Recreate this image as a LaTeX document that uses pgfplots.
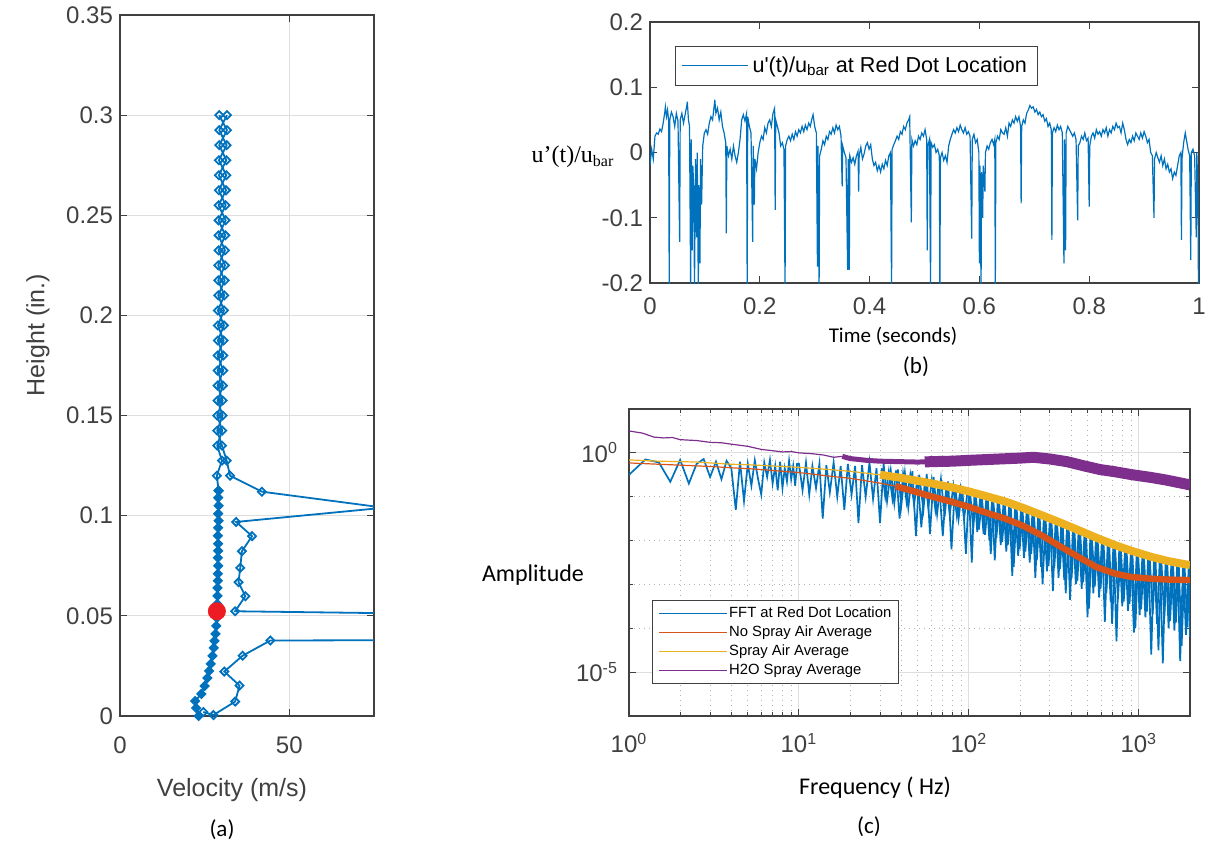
\documentclass[border=0pt]{standalone}
\usepackage{fontspec}
\setmainfont{Liberation Sans}
\newfontfamily\calibri{Carlito}
\newfontfamily\timesf{Liberation Serif}
\usepackage{pgfplots}
\pgfplotsset{compat=1.18}
\definecolor{mblue}{rgb}{0,0.447,0.741}
\definecolor{morange}{rgb}{0.850,0.325,0.098}
\definecolor{myellow}{rgb}{0.929,0.694,0.125}
\definecolor{mpurple}{rgb}{0.494,0.184,0.556}
\definecolor{axgray}{rgb}{0.25,0.25,0.25}
\definecolor{gridgray}{rgb}{0.87,0.87,0.87}
\definecolor{mred}{RGB}{237,28,36}
\pgfplotsset{
  mat/.style={scale only axis, anchor=south west,
    axis line style={draw=axgray, line width=0.6pt},
    tick style={draw=axgray, line width=0.5pt},
    tick align=inside,
    major tick length=3.5pt, minor tick length=2pt,
    ticklabel style={font=\fontsize{12}{14}\selectfont, text=axgray},
  },
}
\begin{document}
\begin{tikzpicture}
\useasboundingbox (0,0) rectangle (605.5pt,-423.5pt);
% ---------------- panel (a)
\begin{axis}[mat, at={(60pt,-358pt)}, width=127pt, height=350.5pt,
  xmin=0, xmax=75, ymin=0, ymax=0.35,
  xtick={0,50}, xticklabels={0,50},
  ytick={0,0.05,0.1,0.15,0.2,0.25,0.3,0.35},
  yticklabels={0,0.05,0.1,0.15,0.2,0.25,0.3,0.35},
  xticklabel style={yshift=-7pt},
  grid=major, major grid style={draw=gridgray, line width=0.5pt},
]
\addplot[mblue, line width=0.9pt, mark=diamond*, mark size=2pt, mark options={xscale=1.33, fill=mblue}] coordinates {
(23.2,0.000) (22.5,0.004) (22.2,0.0075) (24.0,0.011) (25.0,0.015) (25.8,0.019) (26.3,0.0225) (26.8,0.026)
(27.3,0.030) (27.7,0.034) (27.9,0.0375) (28.2,0.041) (28.4,0.045) (28.6,0.049) (28.6,0.0525) (28.7,0.056)
(28.8,0.060) (28.8,0.064) (28.9,0.0675) (28.9,0.071) (29.0,0.075) (28.9,0.079) (29.0,0.0825) (29.0,0.086)
(28.9,0.090) (29.0,0.094) (29.1,0.0975) (29.0,0.101) (29.1,0.105) (29.0,0.109) (29.1,0.1125)
};
\addplot[mblue, line width=0.9pt, mark=diamond, mark size=2pt, mark options={xscale=1.33}] coordinates {
(29.1,0.1125) (28.6,0.120) (30.1,0.1275) (28.7,0.135) (30.2,0.1425) (28.7,0.150) (30.3,0.1575) (28.8,0.165)
(30.5,0.1725) (28.8,0.180) (30.6,0.1875) (28.9,0.195) (30.7,0.2025) (29.0,0.210) (30.9,0.2175) (29.0,0.225)
(31.0,0.2325) (29.1,0.240) (31.2,0.2475) (29.1,0.255) (31.3,0.2625) (29.2,0.270) (31.4,0.2775) (29.3,0.285)
(31.6,0.2925) (29.3,0.300)
};
\addplot[mblue, line width=0.9pt, mark=diamond, mark size=2pt, mark options={xscale=1.33}] coordinates {
(31.6,0.300) (29.3,0.2925) (31.5,0.285) (29.2,0.2775) (31.4,0.270) (29.2,0.2625) (31.2,0.255) (29.1,0.2475)
(31.1,0.240) (29.1,0.2325) (31.0,0.225) (29.0,0.2175) (30.8,0.210) (28.9,0.2025) (30.7,0.195) (28.9,0.1875)
(30.5,0.180) (28.8,0.1725) (30.4,0.165) (28.8,0.1575) (30.3,0.150) (28.7,0.1425) (30.1,0.135) (31.5,0.1275)
(32.5,0.120) (41.9,0.112) (78,0.104) (34.3,0.0969) (39.0,0.0898) (36.0,0.0823) (35.5,0.0740) (35.0,0.0668)
(37.0,0.0598) (34.0,0.0523) (600,0.040) (44.4,0.0377) (36.2,0.0301) (30.8,0.0222) (35.3,0.0152) (34.0,0.0072)
(27.6,0.0005) (24.6,0.002)
};
\addplot[only marks, mark=*, mark size=4.3pt, color=mred, fill=mred] coordinates {(28.6,0.0523)};
\end{axis}
% ---------------- panel (b)
\begin{axis}[mat, at={(325pt,-141.5pt)}, width=274.5pt, height=130.5pt,
  xmin=0, xmax=1, ymin=-0.2, ymax=0.2,
  xtick={0,0.2,0.4,0.6,0.8,1}, xticklabels={0,0.2,0.4,0.6,0.8,1},
  ytick={-0.2,-0.1,0,0.1,0.2}, yticklabels={-0.2,-0.1,0,0.1,0.2},
  xticklabel style={yshift=-4pt},
  legend style={at={(0.0455,0.908)}, anchor=north west, draw=axgray, fill=white,
    font=\fontsize{10.8}{13}\selectfont, inner xsep=3pt, inner ysep=3pt},
  legend image code/.code={\draw[#1] (0pt,0pt) -- (33pt,0pt);},
]
\addplot[mblue, line width=0.6pt] coordinates {
(0.000,-0.020) (0.003,0.005) (0.006,-0.010) (0.009,0.025) (0.012,0.030) (0.015,0.028) (0.018,0.036) (0.021,0.032)
(0.024,0.045) (0.027,0.062) (0.028,0.070) (0.030,0.055) (0.032,0.065) (0.034,0.048) (0.035,-0.210) (0.036,0.050)
(0.039,0.062) (0.042,0.055) (0.045,0.040) (0.048,0.060) (0.051,0.048) (0.054,-0.137) (0.055,0.050) (0.058,0.060)
(0.061,0.045) (0.064,0.058) (0.067,0.072) (0.068,0.078) (0.070,0.050) (0.072,0.040) (0.074,-0.205) (0.075,0.020)
(0.077,-0.150) (0.078,-0.020) (0.080,-0.060) (0.081,-0.210) (0.083,-0.010) (0.085,-0.130) (0.086,0.000) (0.088,-0.210)
(0.089,-0.050) (0.091,-0.170) (0.092,-0.010) (0.094,-0.080) (0.096,0.010) (0.099,0.030) (0.102,0.035) (0.105,0.028)
(0.108,0.045) (0.111,0.055) (0.114,0.050) (0.117,0.072) (0.118,0.081) (0.120,0.060) (0.123,0.068) (0.126,0.050)
(0.129,0.062) (0.132,0.040) (0.135,0.030) (0.138,0.015) (0.139,-0.124) (0.140,0.010) (0.143,-0.005) (0.146,0.005)
(0.149,-0.010) (0.152,0.010) (0.155,-0.005) (0.158,-0.015) (0.161,0.000) (0.164,0.020) (0.167,0.050) (0.170,0.058)
(0.173,0.048) (0.176,0.060) (0.177,-0.210) (0.178,0.055) (0.181,0.040) (0.184,0.030) (0.187,-0.137) (0.188,0.010)
(0.190,-0.080) (0.191,-0.010) (0.194,-0.025) (0.197,0.000) (0.200,0.015) (0.203,0.025) (0.206,0.020) (0.209,0.038)
(0.212,0.030) (0.215,0.045) (0.218,0.050) (0.221,0.040) (0.224,0.060) (0.227,0.068) (0.228,-0.088) (0.229,0.050)
(0.232,0.040) (0.235,0.030) (0.238,0.010) (0.241,0.015) (0.244,0.005) (0.246,-0.210) (0.247,0.010) (0.250,0.020)
(0.253,0.025) (0.256,0.018) (0.259,0.028) (0.262,0.020) (0.265,0.032) (0.268,0.025) (0.271,0.035) (0.274,0.030)
(0.277,0.040) (0.280,0.032) (0.283,0.042) (0.286,0.035) (0.289,0.045) (0.292,0.040) (0.295,0.052) (0.297,0.058)
(0.300,0.040) (0.303,0.030) (0.305,-0.175) (0.306,0.010) (0.308,-0.210) (0.309,-0.005) (0.312,0.005) (0.315,0.018)
(0.318,0.012) (0.321,0.025) (0.324,0.020) (0.327,0.032) (0.330,0.028) (0.333,0.038) (0.336,0.030) (0.339,0.042)
(0.342,0.035) (0.345,0.040) (0.348,0.025) (0.350,-0.052) (0.351,0.010) (0.354,0.000) (0.357,-0.008) (0.360,-0.180)
(0.361,-0.010) (0.363,-0.180) (0.364,-0.005) (0.367,-0.015) (0.370,-0.008) (0.373,-0.018) (0.376,-0.005) (0.379,0.002)
(0.380,-0.060) (0.381,-0.005) (0.384,0.008) (0.387,-0.010) (0.390,-0.002) (0.393,0.010) (0.396,0.015) (0.399,0.005)
(0.402,0.012) (0.405,-0.010) (0.408,-0.020) (0.411,-0.015) (0.414,-0.028) (0.417,-0.020) (0.420,-0.030) (0.423,-0.018)
(0.426,-0.025) (0.429,-0.012) (0.432,-0.020) (0.435,-0.005) (0.438,0.000) (0.440,-0.210) (0.441,0.005) (0.444,0.012)
(0.447,0.018) (0.450,0.025) (0.453,0.020) (0.456,0.032) (0.459,0.028) (0.462,0.040) (0.465,0.035) (0.468,0.045)
(0.471,0.050) (0.473,0.055) (0.476,-0.107) (0.477,0.020) (0.480,0.010) (0.483,0.018) (0.486,0.012) (0.489,0.025)
(0.492,0.020) (0.495,0.030) (0.498,0.025) (0.501,0.035) (0.504,0.020) (0.505,-0.150) (0.506,0.010) (0.509,0.020)
(0.511,-0.210) (0.512,0.015) (0.515,0.008) (0.518,0.012) (0.521,0.000) (0.524,0.005) (0.527,-0.005) (0.528,-0.210)
(0.529,-0.008) (0.532,0.000) (0.535,-0.012) (0.538,-0.005) (0.541,-0.015) (0.544,0.010) (0.547,0.020) (0.550,0.028)
(0.553,0.035) (0.556,0.030) (0.559,0.038) (0.562,0.032) (0.565,0.042) (0.568,0.035) (0.571,0.030) (0.574,0.038)
(0.577,0.028) (0.580,0.032) (0.583,0.025) (0.586,-0.132) (0.587,0.020) (0.590,0.028) (0.593,0.015) (0.596,0.020)
(0.599,0.000) (0.600,-0.170) (0.601,-0.020) (0.603,-0.210) (0.604,-0.030) (0.606,-0.100) (0.607,-0.020) (0.610,-0.060)
(0.611,0.000) (0.614,0.010) (0.617,0.005) (0.620,0.015) (0.623,0.020) (0.626,0.012) (0.628,0.020) (0.629,-0.210)
(0.630,0.015) (0.633,0.025) (0.636,0.020) (0.639,0.035) (0.642,0.030) (0.645,0.028) (0.648,0.038) (0.651,0.025)
(0.654,0.045) (0.657,0.040) (0.660,0.050) (0.663,0.045) (0.666,0.055) (0.669,0.048) (0.672,0.055) (0.675,0.040)
(0.676,-0.078) (0.677,0.040) (0.680,0.050) (0.683,0.045) (0.686,0.060) (0.689,0.065) (0.692,0.072) (0.695,0.068)
(0.698,0.070) (0.701,0.062) (0.704,0.066) (0.707,0.058) (0.710,0.062) (0.713,0.055) (0.716,0.058) (0.719,0.048)
(0.722,0.052) (0.725,0.040) (0.728,0.045) (0.731,0.035) (0.732,-0.134) (0.733,0.030) (0.736,0.038) (0.739,0.032)
(0.742,0.042) (0.745,0.035) (0.748,0.040) (0.751,0.030) (0.754,-0.170) (0.755,0.020) (0.757,-0.150) (0.758,0.030)
(0.761,0.040) (0.764,0.035) (0.767,0.030) (0.770,0.025) (0.773,0.030) (0.776,0.020) (0.779,-0.104) (0.780,0.010)
(0.783,0.015) (0.786,0.025) (0.789,0.020) (0.792,0.030) (0.795,0.018) (0.798,0.022) (0.800,-0.083) (0.801,0.010)
(0.804,0.025) (0.807,0.030) (0.810,0.022) (0.813,0.035) (0.816,0.028) (0.819,0.032) (0.822,0.025) (0.825,0.035)
(0.828,0.030) (0.831,0.038) (0.834,0.025) (0.837,0.035) (0.840,0.030) (0.843,0.040) (0.846,0.035) (0.849,0.045)
(0.852,0.038) (0.855,0.040) (0.858,0.030) (0.861,0.045) (0.864,0.035) (0.867,0.020) (0.870,0.012) (0.873,0.020)
(0.876,0.015) (0.879,0.025) (0.882,0.018) (0.885,0.030) (0.888,0.025) (0.891,0.020) (0.894,0.030) (0.897,0.022)
(0.900,0.032) (0.903,0.025) (0.906,0.015) (0.909,0.020) (0.912,0.000) (0.915,-0.005) (0.918,-0.100) (0.919,-0.010)
(0.922,0.000) (0.925,-0.008) (0.928,-0.015) (0.931,-0.005) (0.934,-0.020) (0.937,-0.010) (0.940,-0.025) (0.943,-0.018)
(0.946,-0.030) (0.949,-0.025) (0.952,-0.040) (0.955,-0.030) (0.958,-0.035) (0.961,-0.020) (0.964,-0.005) (0.967,0.000)
(0.968,-0.134) (0.969,-0.010) (0.972,0.015) (0.975,0.030) (0.977,0.020) (0.980,0.005) (0.983,-0.005) (0.985,-0.165)
(0.986,0.000) (0.989,0.005) (0.992,-0.005) (0.995,-0.130) (0.996,0.000) (0.998,-0.060) (0.999,-0.210) (1.000,-0.170)
};
\addlegendentry{u\textquotesingle(t)/u\textsubscript{bar} at Red Dot Location}
\end{axis}
% ---------------- panel (c)
\begin{axis}[mat, at={(314.5pt,-358pt)}, width=280.5pt, height=153.5pt,
  xmode=log, ymode=log, xmin=1, xmax=2000, ymin=1e-6, ymax=10,
  xtick={1,10,100,1000},
  xticklabels={10\textsuperscript{0},10\textsuperscript{1},10\textsuperscript{2},10\textsuperscript{3}},
  ytick={1e-5,1}, yticklabels={10\textsuperscript{-5},10\textsuperscript{0}},
  minor xtick={2,3,4,5,6,7,8,9,20,30,40,50,60,70,80,90,200,300,400,500,600,700,800,900,2000},
  minor ytick={1e-6,1e-4,1e-3,1e-2,1e-1,10},
  xmajorgrids, ymajorgrids, xminorgrids, yminorgrids,
  major grid style={draw=gridgray, line width=0.5pt},
  minor grid style={draw=gridgray!80!black, line width=0.5pt, dotted},
  xticklabel style={yshift=-5pt}, yticklabel style={xshift=-2pt},
  legend style={at={(0.041,0.378)}, anchor=north west, draw=axgray, fill=white,
    font=\fontsize{7.4}{9}\selectfont, inner xsep=3pt, inner ysep=2pt,
    nodes={inner sep=0.8pt, text height=6pt, text depth=1.8pt}},
  legend cell align=left,
  legend image code/.code={\draw[#1, line width=0.6pt] (0pt,0pt) -- (34pt,0pt);},
]
\addplot[mblue, line width=0.85pt] coordinates {
(1.00,0.316) (1.25,0.708) (1.50,0.603) (1.75,0.219) (2.00,0.692) (2.25,0.200) (2.50,0.562) (2.75,0.724)
(3.00,0.282) (3.25,0.631) (3.50,0.251) (3.75,0.661) (4.00,0.447) (4.25,0.0501) (4.50,0.631) (4.75,0.0794)
(5.00,0.562) (5.25,0.178) (5.50,0.676) (5.75,0.251) (6.00,0.112) (6.25,0.603) (6.50,0.282) (6.75,0.692)
(7.00,0.200) (7.25,0.501) (7.50,0.141) (7.75,0.631) (8.00,0.158) (8.25,0.447) (8.50,0.224) (8.75,0.661)
(9.00,0.251) (9.25,0.501) (9.50,0.178) (9.75,0.562)
(10,0.562) (10.5,0.141) (11,0.603) (11.5,0.112) (12,0.501) (12.6,0.158) (13.2,0.562) (13.8,0.0316)
(14.5,0.525) (15.2,0.126) (16,0.603) (16.8,0.1) (17.6,0.501) (18.5,0.0501) (19.4,0.562) (20.4,0.112)
(21.4,0.501) (22.4,0.0251) (23.5,0.525) (24.7,0.1) (26,0.603) (27.3,0.0891) (28.6,0.447) (30,0.0251)
(31.5,0.562) (33,0.0794) (34.7,0.398) (36.4,0.0708) (38.2,0.417) (40,0.0631) (42,0.355) (44,0.0562)
(46.5,0.380) (48.8,0.0126) (51,0.316) (54,0.0501) (56.5,0.331) (59,0.0141) (62,0.282) (65,0.0398)
(68.5,0.251) (72,0.0355) (75.5,0.224) (79,0.00631) (83,0.191) (87,0.0316) (91.5,0.166) (96,0.00501)
(100,0.141) (104,3.16e-3) (108,0.132) (112,0.0158) (117,0.112) (122,0.0141) (127,0.107) (132,0.01)
(137,0.0891) (142,3.55e-3) (148,0.0912) (154,7.94e-3) (160,0.0759) (166,5.62e-3) (173,0.0741) (180,1.58e-3)
(187,0.0631) (195,4.47e-3) (203,0.0603) (211,3.98e-3) (219,0.0537) (228,3.16e-3) (237,0.0525) (246,1.41e-3)
(256,0.0437) (266,2.51e-3) (277,0.0398) (288,2.0e-3) (300,0.0347) (312,7.08e-4) (324,0.0316) (337,1.41e-3)
(350,0.0263) (364,1.26e-3) (379,0.0251) (394,4.47e-4) (410,0.0209) (426,1.0e-3) (443,0.0195) (461,7.94e-4)
(480,0.0174) (499,1.78e-4) (519,0.0145) (540,6.31e-4) (561,0.0138) (584,5.01e-4) (607,0.0117) (631,1.41e-4)
(657,0.0107) (683,3.98e-4) (710,8.91e-3) (739,5.01e-5) (768,8.32e-3) (799,3.16e-4) (831,7.59e-3) (864,2.51e-4)
(899,6.31e-3) (935,7.94e-5) (972,6.03e-3) (1011,2.0e-4) (1051,5.25e-3) (1093,1.78e-4) (1137,5.01e-3) (1183,2.51e-5)
(1230,4.68e-3) (1279,1.26e-4) (1330,4.37e-3) (1384,1.58e-5) (1439,4.17e-3) (1497,1.0e-4) (1557,3.80e-3) (1619,8.91e-5)
(1684,3.63e-3) (1751,1.78e-5) (1821,3.31e-3) (1894,7.08e-5) (1970,3.16e-3) (2000,6.31e-5)
};
\addlegendentry{FFT at Red Dot Location}
\addplot[mblue, line width=0.85pt, forget plot] coordinates {
(30.7,0.447) (32.2,0.1) (33.8,0.380) (35.5,0.0891) (37.3,0.398) (39.1,0.0316) (41,0.331) (43,0.0759)
(45.2,0.316) (47.6,0.0661) (49.9,0.282) (52.5,0.0200) (55.2,0.263) (57.7,0.0562) (60.5,0.240) (63.5,0.0501)
(66.7,0.219) (70.2,0.0126) (73.7,0.191) (77.2,0.0398) (81,0.174) (85,0.0355) (89.2,0.151) (93.7,0.0316)
(98,0.126) (102,0.110) (106,0.0191) (110,0.102) (114.5,0.0178) (119.5,0.0891) (124.5,0.0135) (129.5,0.0813)
(134.5,5.01e-3) (139.5,0.0741) (145,0.0112) (151,0.0676) (157,9.33e-3) (163,0.0617) (169.5,7.94e-3) (176.5,0.0562)
(183.5,2.51e-3) (191,0.0525) (199,6.31e-3) (207,0.0468) (215,5.62e-3) (223.5,0.0427) (232.5,5.01e-3) (241.5,0.0389)
(251,3.55e-3) (261,0.0347) (271.5,1.0e-3) (282.5,0.0316) (294,2.63e-3) (306,0.0275) (318,2.40e-3) (330.5,0.0245)
(343.5,2.24e-3) (357,0.0214) (371.5,6.31e-4) (386.5,0.0191) (402,1.38e-3) (418,0.0166) (434.5,1.20e-3) (452,0.0148)
(470.5,1.12e-3) (489.5,0.0132) (509,2.82e-4) (529.5,0.0115) (550.5,8.91e-4) (572.5,0.0102) (595.5,7.94e-4) (619,9.12e-3)
(644,6.31e-4) (670,8.13e-3) (696.5,1.26e-4) (724.5,7.24e-3) (753.5,4.68e-4) (783.5,6.46e-3) (815,4.07e-4) (847.5,5.75e-3)
(881.5,3.63e-4) (917,5.13e-3) (953.5,1.0e-4) (991.5,4.57e-3) (1031,2.69e-4) (1072,4.17e-3) (1115,2.40e-4) (1160,3.98e-3)
(1206.5,2.14e-4) (1254.5,3.72e-3) (1304.5,3.16e-5) (1357,3.55e-3) (1411.5,1.66e-4) (1468,3.31e-3) (1527,1.48e-4) (1588,3.09e-3)
(1651.5,1.35e-4) (1717.5,2.95e-3) (1786,3.98e-5) (1857.5,2.75e-3) (1932,1.05e-4) (1985,2.63e-3)
};
\addplot[morange, line width=0.6pt] coordinates {
(1,0.589) (1.5,0.550) (2,0.525) (3,0.490) (4,0.457) (5,0.437) (6,0.417) (8,0.380) (10,0.355) (13,0.316)
(16,0.288) (20,0.263) (25,0.229) (30,0.204) (37,0.174) (45,0.141)
};
\addlegendentry{No Spray Air Average}
\addplot[morange, line width=3.2pt, line join=round, forget plot] coordinates {
(37,0.174) (45,0.141) (61,0.1) (80,0.0759) (100,0.0589) (130,0.0417) (164,0.0316) (210,0.0214)
(268,0.0132) (340,7.59e-3) (440,4.27e-3) (560,2.51e-3) (720,1.78e-3) (900,1.48e-3) (1180,1.35e-3)
(1500,1.29e-3) (2000,1.26e-3)
};
\addplot[myellow, line width=0.6pt] coordinates {
(1,0.692) (1.5,0.646) (2,0.631) (2.5,0.617) (3,0.589) (4,0.550) (5,0.537) (7,0.501) (10,0.468) (15,0.417)
(20,0.380) (30,0.316) (40,0.269)
};
\addlegendentry{Spray Air Average}
\addplot[myellow, line width=4pt, line join=round, forget plot] coordinates {
(30,0.316) (40,0.269) (61,0.2) (80,0.162) (100,0.132) (130,0.1) (164,0.0776) (210,0.0550) (268,0.0380)
(340,0.0263) (440,0.0174) (560,0.0117) (720,7.94e-3) (900,5.89e-3) (1180,4.27e-3) (1500,3.39e-3) (2000,2.75e-3)
};
\addplot[mpurple, line width=0.6pt] coordinates {
(1,3.16) (1.2,2.82) (1.4,2.29) (1.6,2.19) (1.8,2.24) (2.0,2.0) (2.5,1.91) (3,1.74) (3.5,1.70) (4,1.58)
(5,1.41) (6,1.20) (7,1.12) (8,1.05) (9,1.07) (10,1.0) (12,0.955) (14,0.891) (16,0.794) (18,0.832) (20,0.741)
};
\addlegendentry{H2O Spray Average}
\addplot[mpurple, line width=2.5pt, line join=round, forget plot] coordinates {
(18,0.832) (20,0.741) (25,0.676) (30,0.646) (39,0.631) (50,0.617) (60,0.631)
};
\addplot[mpurple, line width=5.5pt, line join=round, forget plot] coordinates {
(55,0.620) (60,0.631) (80,0.646) (100,0.676) (150,0.724) (200,0.759) (240,0.794) (300,0.724) (377,0.631)
(480,0.501) (590,0.417) (720,0.372) (920,0.316) (1180,0.275) (1450,0.240) (2000,0.186)
};
\end{axis}
% ---------------- labels
\node[font=\fontsize{12.5}{15}\selectfont, text=axgray, rotate=90] at (19pt,-167.5pt) {Height (in.)};
\node[font=\fontsize{12.5}{15}\selectfont, text=axgray] at (116pt,-395pt) {Velocity (m/s)};
\node[font=\calibri\fontsize{11.5}{14}\selectfont] at (111pt,-415pt) {(a)};
\node[font=\timesf\fontsize{12}{14}\selectfont] at (286.5pt,-78.5pt) {u’(t)/u\textsubscript{bar}};
\node[font=\calibri\fontsize{10.5}{13}\selectfont] at (446.5pt,-168pt) {Time (seconds)};
\node[font=\calibri\fontsize{11.5}{14}\selectfont] at (458pt,-183.5pt) {(b)};
\node[font=\calibri\fontsize{12}{14}\selectfont] at (266.5pt,-287.5pt) {Amplitude};
\node[font=\calibri\fontsize{12}{14}\selectfont] at (437.5pt,-394pt) {Frequency ( Hz)};
\node[font=\calibri\fontsize{11.5}{14}\selectfont] at (434.5pt,-413.5pt) {(c)};
\end{tikzpicture}
\end{document}
